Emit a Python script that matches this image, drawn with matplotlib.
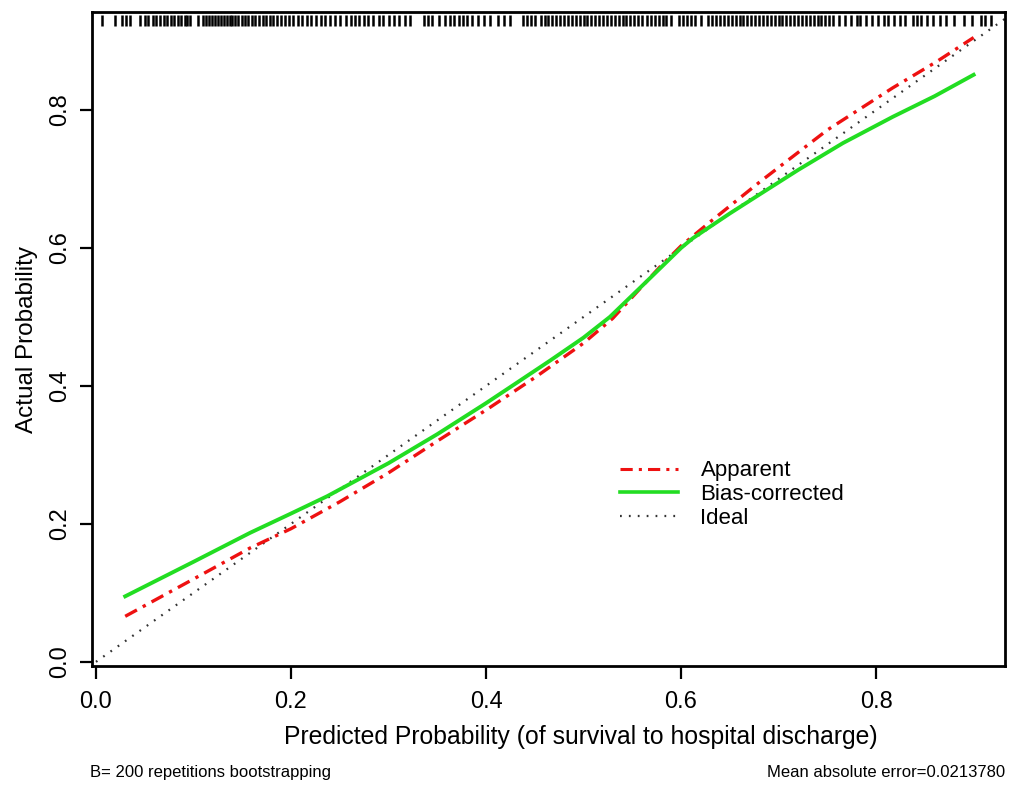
import numpy as np
import matplotlib.pyplot as plt
from matplotlib.lines import Line2D

# ===============================
# DATA
# ===============================
apparent_x = [0.03, 0.10, 0.158, 0.20, 0.25, 0.30, 0.35, 0.40, 0.45, 0.50, 0.53,
              0.578, 0.60, 0.63, 0.681, 0.75, 0.817, 0.862, 0.90]
apparent_y = [0.066, 0.120, 0.165, 0.193, 0.232, 0.274, 0.320, 0.365, 0.412, 0.462, 0.498,
              0.572, 0.603, 0.638, 0.696, 0.771, 0.832, 0.870, 0.905]

bias_x = [0.03, 0.10, 0.158, 0.20, 0.237, 0.30, 0.35, 0.40, 0.432, 0.466, 0.50, 0.527,
          0.56, 0.60, 0.612, 0.65, 0.681, 0.72, 0.766, 0.817, 0.86, 0.90]
bias_y = [0.095, 0.145, 0.187, 0.215, 0.240, 0.288, 0.330, 0.375, 0.405, 0.437, 0.470, 0.500,
          0.545, 0.600, 0.614, 0.650, 0.678, 0.713, 0.752, 0.790, 0.820, 0.851]

ideal_x = [0.0, 1.0]
ideal_y = [0.0, 1.0]

rug_x = [0.006, 0.020, 0.027, 0.031, 0.035, 0.045, 0.050, 0.053, 0.058, 0.062, 0.066, 0.070,
         0.073, 0.077, 0.080, 0.084, 0.087, 0.091, 0.093, 0.096, 0.105, 0.110, 0.113, 0.116,
         0.119, 0.122, 0.125, 0.128, 0.131, 0.134, 0.137, 0.140, 0.143, 0.146, 0.150, 0.153,
         0.156, 0.160, 0.163, 0.167, 0.171, 0.174, 0.178, 0.182, 0.186, 0.190, 0.194, 0.198,
         0.202, 0.207, 0.211, 0.216, 0.221, 0.226, 0.231, 0.235, 0.240, 0.245, 0.250, 0.256,
         0.262, 0.266, 0.270, 0.275, 0.279, 0.284, 0.290, 0.294, 0.300, 0.306, 0.311, 0.317,
         0.322, 0.336, 0.340, 0.345, 0.352, 0.358, 0.363, 0.367, 0.372, 0.376, 0.380, 0.386,
         0.392, 0.398, 0.404, 0.412, 0.418, 0.425, 0.438, 0.442, 0.446, 0.450, 0.456, 0.460,
         0.464, 0.468, 0.472, 0.476, 0.480, 0.484, 0.488, 0.492, 0.496, 0.500, 0.504, 0.508,
         0.512, 0.516, 0.520, 0.524, 0.528, 0.532, 0.536, 0.540, 0.544, 0.548, 0.552, 0.556,
         0.560, 0.565, 0.569, 0.573, 0.577, 0.581, 0.585, 0.590, 0.598, 0.602, 0.606, 0.610,
         0.614, 0.620, 0.628, 0.632, 0.636, 0.640, 0.644, 0.648, 0.652, 0.656, 0.660, 0.664,
         0.668, 0.672, 0.676, 0.680, 0.684, 0.688, 0.692, 0.696, 0.700, 0.704, 0.708, 0.712,
         0.716, 0.720, 0.724, 0.728, 0.732, 0.736, 0.740, 0.744, 0.748, 0.752, 0.756, 0.762,
         0.768, 0.774, 0.780, 0.784, 0.790, 0.796, 0.802, 0.808, 0.812, 0.818, 0.824, 0.830,
         0.838, 0.842, 0.846, 0.852, 0.858, 0.866, 0.872, 0.880, 0.890, 0.898, 0.908, 0.912,
         0.918]

ticks = [0.0, 0.2, 0.4, 0.6, 0.8]
tick_labels = ["0.0", "0.2", "0.4", "0.6", "0.8"]

x_label = "Predicted Probability (of survival to hospital discharge)"
y_label = "Actual Probability"
note_left = "B= 200 repetitions bootstrapping"
note_right = "Mean absolute error=0.0213780"

# ===============================
# PLOT
# ===============================
plt.rcParams["font.family"] = ["Liberation Sans", "DejaVu Sans"]

fig = plt.figure(figsize=(10.16, 7.85), dpi=100)
ax = fig.add_axes([0.0906, 0.1516, 0.8984, 0.8331])

ax.set_xlim(-0.004, 0.932)
ax.set_ylim(-0.006, 0.942)

ax.plot(ideal_x, ideal_y, color="#333333", lw=1.6, linestyle=(0, (0.8, 3.2)))
ax.plot(apparent_x, apparent_y, color="#ee1111", lw=2.4, linestyle=(0, (4, 2, 1, 2)))
ax.plot(bias_x, bias_y, color="#22dd22", lw=2.8)

# rug of predicted probabilities along the top
ax.vlines(rug_x, 0.922, 0.938, color="black", lw=1.8)

for s in ax.spines.values():
    s.set_linewidth(2)

ax.set_xticks(ticks)
ax.set_xticklabels(tick_labels)
ax.set_yticks(ticks)
ax.set_yticklabels(tick_labels, rotation=90, va="center")
ax.tick_params(direction="out", length=9, width=1.6, labelsize=17)
ax.tick_params(axis="x", pad=9)
ax.tick_params(axis="y", pad=6)

ax.set_xlabel(x_label, fontsize=17.8)
ax.xaxis.set_label_coords(0.536, -0.09)
ax.set_ylabel(y_label, fontsize=17.5, labelpad=8)

handles = [
    Line2D([], [], color="#ee1111", lw=2.2, linestyle=(0, (4, 2, 1, 2))),
    Line2D([], [], color="#22dd22", lw=2.6),
    Line2D([], [], color="#333333", lw=1.6, linestyle=(0, (0.8, 3.2))),
]
ax.legend(handles, ["Apparent", "Bias-corrected", "Ideal"], loc="upper left",
          bbox_to_anchor=(0.557, 0.345), frameon=False, fontsize=16,
          handlelength=2.6, handletextpad=1.0, labelspacing=0.12)

fig.text(0.089, 0.01, note_left, fontsize=12)
fig.text(0.989, 0.01, note_right, fontsize=12, ha="right")

fig.savefig("out.png", dpi=100)
